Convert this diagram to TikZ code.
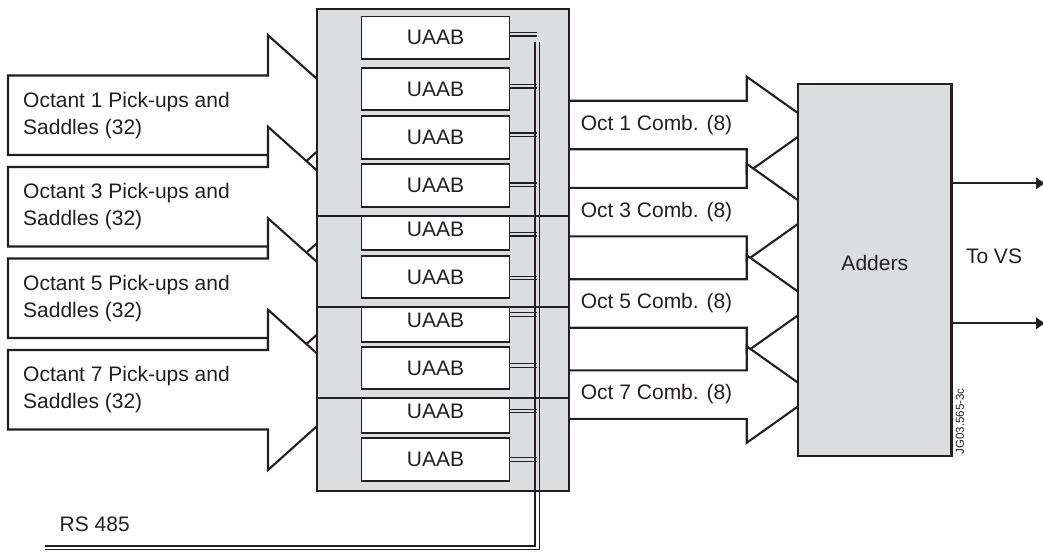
\documentclass[tikz,border=0pt]{standalone}
\usepackage{fontspec}
\setmainfont{Liberation Sans}
\usetikzlibrary{arrows.meta,calc}
\definecolor{linec}{HTML}{231F20}
\definecolor{panelgray}{HTML}{DCDDDF}
\newcommand\figfont{\fontsize{21}{26.7}\selectfont}
\newcommand\tinyfigfont{\fontsize{11.5}{13}\selectfont}
\begin{document}
\begin{tikzpicture}[x=1pt,y=-1pt,
  ln/.style={draw=linec,line width=2.1pt},
  bigarrow/.style={ln,fill=white,line join=miter,miter limit=10},
  panel/.style={ln,fill=panelgray},
  uaab/.style={draw=linec,line width=1.9pt,fill=white,minimum width=148pt,minimum height=42.5pt,inner sep=0pt,font=\figfont,text=linec},
  bus/.style={draw=linec,line width=1.2pt},
  lbl/.style={font=\figfont,text=linec,inner sep=0pt},
]
\useasboundingbox (0,0) rectangle (1043,551);

% left input arrows
\foreach \t in {75.5,167,258.5,350}{
  \filldraw[bigarrow] (8,\t) -- (268,\t) -- (268,\t-40.25) -- (357.6,\t+39.75)
    -- (268,\t+120) -- (268,\t+79.5) -- (8,\t+79.5) -- cycle;
}
\node[lbl,anchor=west,align=left] (l1) at (23,115.25) {Octant 1 Pick-ups and\\Saddles (32)};
\node[lbl,anchor=west,align=left] (l3) at (23,206.75) {Octant 3 Pick-ups and\\Saddles (32)};
\node[lbl,anchor=west,align=left] (l5) at (23,298.25) {Octant 5 Pick-ups and\\Saddles (32)};
\node[lbl,anchor=west,align=left] (l7) at (23,389.75) {Octant 7 Pick-ups and\\Saddles (32)};

% right combined arrows
\foreach \t in {100.7,187.8,279.2,370.3}{
  \filldraw[bigarrow] (568,\t) -- (746.7,\t) -- (746.7,\t-24) -- (814.7,\t+24.25)
    -- (746.7,\t+72.5) -- (746.7,\t+48.5) -- (568,\t+48.5) -- cycle;
}
\node[lbl,anchor=west] (c1) at (580.7,124.95) {Oct 1 Comb. (8)};
\node[lbl,anchor=west] (c3) at (580.7,212.05) {Oct 3 Comb. (8)};
\node[lbl,anchor=west] (c5) at (580.7,303.45) {Oct 5 Comb. (8)};
\node[lbl,anchor=west] (c7) at (580.7,394.55) {Oct 7 Comb. (8)};

% UAAB rack
\node[panel,minimum width=252.3pt,minimum height=481.8pt,inner sep=0pt,anchor=north west] (rack) at (315.7,7.7) {};

\foreach \i/\y in {1/37.8,2/88.9,3/137.5,4/185.6,6/277,8/368,10/459.5}{
  \node[uaab] (u\i) at (435.5,\y) {UAAB};
}
\node[uaab,minimum height=34.3pt,label={[lbl,yshift=3.85pt]center:UAAB}] (u5) at (435.5,232.85) {};
\node[uaab,minimum height=34.4pt,label={[lbl,yshift=3.8pt]center:UAAB}] (u7) at (435.5,324.5) {};
\node[uaab,minimum height=34.4pt,label={[lbl,yshift=3.8pt]center:UAAB}] (u9) at (435.5,415.5) {};

\foreach \y in {215.7,307.3,398.3}{
  \draw[ln] (rack.west |- 0,\y) -- (rack.east |- 0,\y);
}

% RS 485 bus
\foreach \i/\y in {1/34.3,2/86.2,3/134.7,4/184.7,5/234.2,6/278,7/314.3,8/365.3,9/411,10/459.3}{
  \coordinate (b\i) at (536.8,\y);
  \draw[bus] ($(u\i.east |- b\i)+(0,-1.8)$) -- ($(b\i)+(0,-1.8)$);
  \draw[bus] ($(u\i.east |- b\i)+(0,1.8)$) -- ($(b\i)+(0,1.8)$);
}
\coordinate (busA) at (535,41.7);
\coordinate (busB) at (539.3,41.7);
\coordinate (rsA) at (45,546);
\coordinate (rsB) at (45,549.5);
\draw[bus] (busA) |- (rsA);
\draw[bus] (busB) |- (rsB);
\node[lbl,anchor=west] (rs) at (59.5,524) {RS 485};

% Adders
\node[panel,minimum width=153.5pt,minimum height=372pt,inner sep=0pt,
  label={[lbl,yshift=7.3pt]center:Adders}] (adders) at (874.75,270) {};
\coordinate (o1) at (1046,183.3);
\coordinate (o2) at (1046,323.3);
\draw[ln,-{Latex[length=10pt,width=13pt]}] (adders.east |- o1) -- (o1);
\draw[ln,-{Latex[length=10pt,width=13pt]}] (adders.east |- o2) -- (o2);
\node[lbl] (tovs) at (994,256) {To VS};
\node[font=\tinyfigfont,text=linec,inner sep=0pt,rotate=90] (jg) at (960,421.5) {JG03.565-3c};
\end{tikzpicture}
\end{document}
